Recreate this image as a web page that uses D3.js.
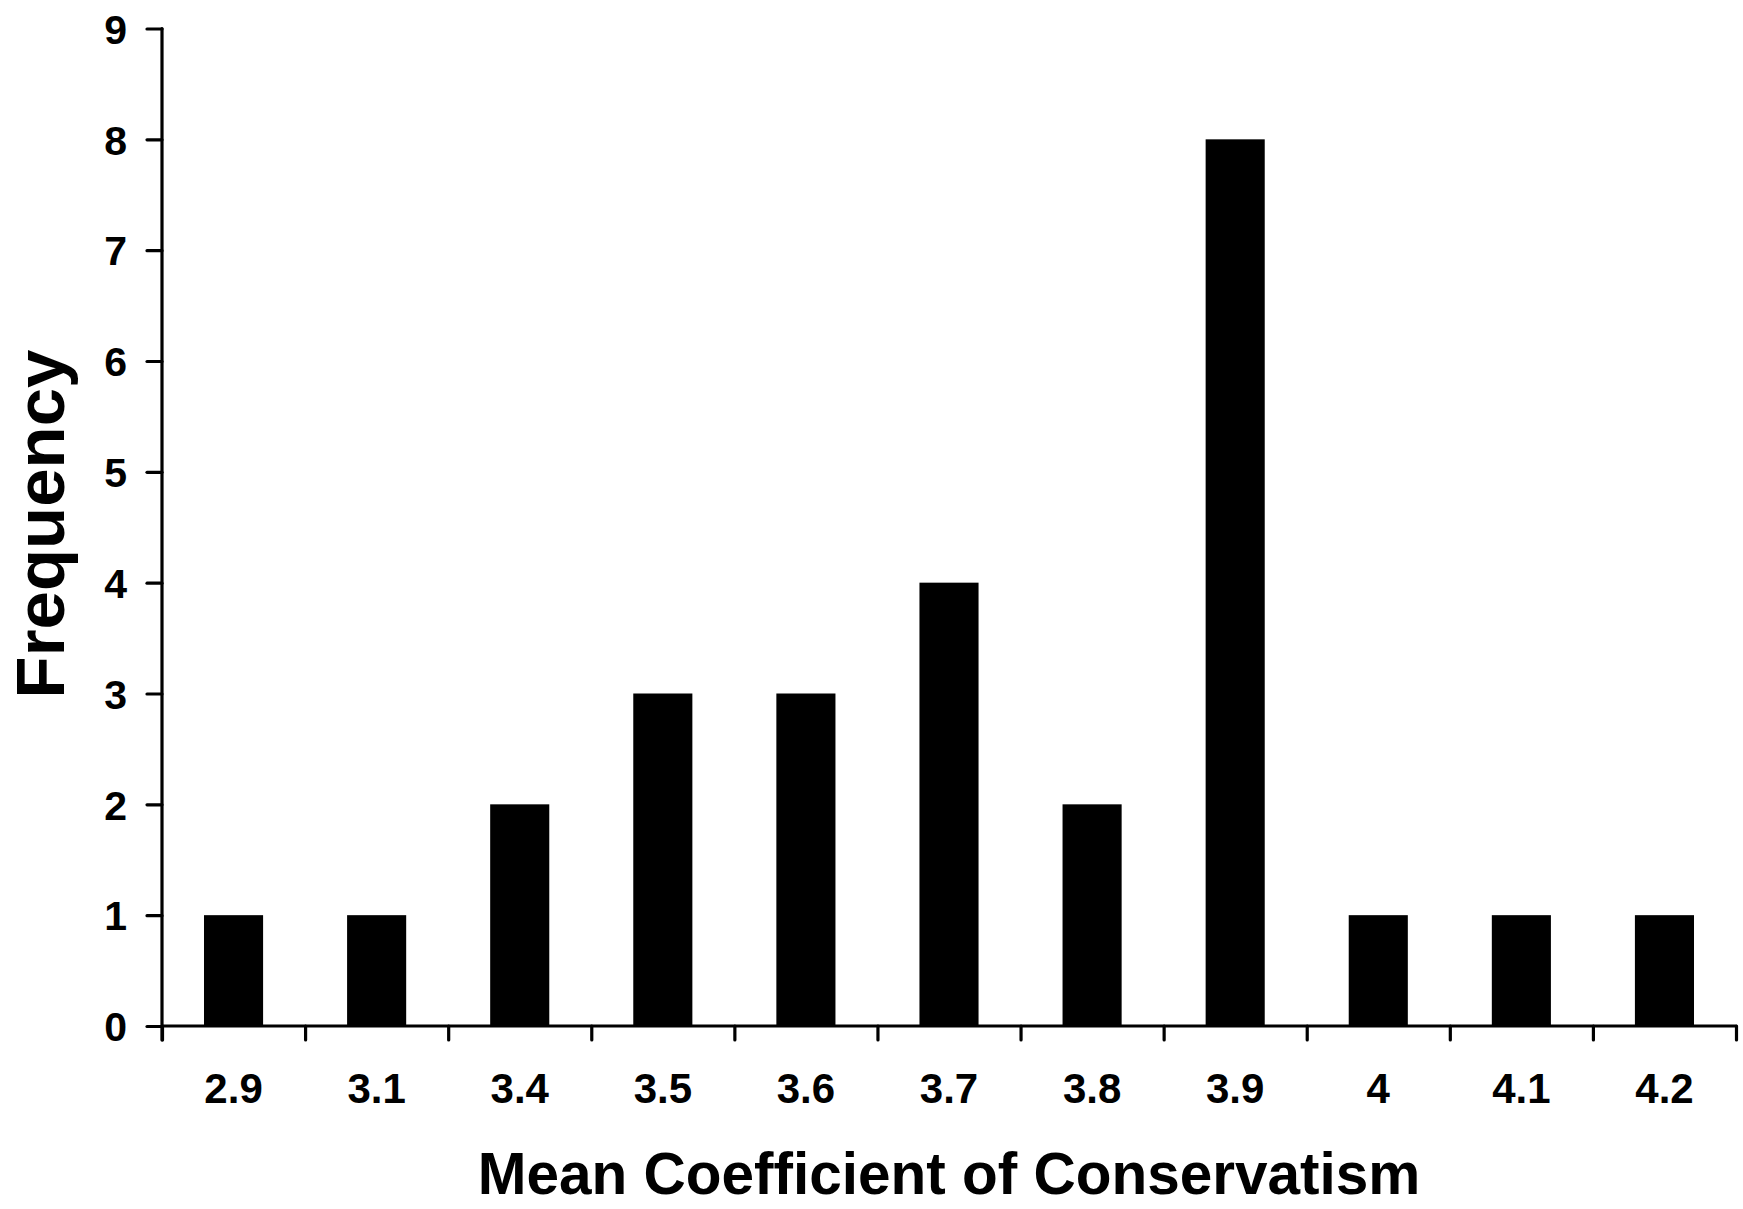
<!DOCTYPE html>
<html>
<head>
<meta charset="utf-8">
<script src="https://cdn.jsdelivr.net/npm/d3@7"></script>
<style>
  html, body { margin: 0; padding: 0; background: #fff; }
  svg { display: block; }
  text { font-family: "Liberation Sans", Arial, sans-serif; font-weight: bold; fill: #000; }
</style>
</head>
<body>
<svg id="chart" width="1743" height="1209"></svg>
<script>
const categories = ["2.9", "3.1", "3.4", "3.5", "3.6", "3.7", "3.8", "3.9", "4", "4.1", "4.2"];
const frequencies = [1, 1, 2, 3, 3, 4, 2, 8, 1, 1, 1];
const yTicks = [0, 1, 2, 3, 4, 5, 6, 7, 8, 9];
const xTitle = "Mean Coefficient of Conservatism";
const yTitle = "Frequency";

(function () {
const svg = d3.select("#chart");
const plotLeft = 162, plotRight = 1736, plotTop = 28.5, plotBottom = 1026;

const x = d3.scaleBand().domain(categories).range([plotLeft, plotRight]).padding(0);
const xEdges = d3.scaleLinear().domain([0, categories.length]).range([plotLeft, plotRight]);
const y = d3.scaleLinear().domain([0, 9]).range([plotBottom, plotTop]);

const barFrac = 0.413;

// bars
svg.append("g").selectAll("rect")
  .data(categories.map((c, i) => ({ c, v: frequencies[i] })))
  .join("rect")
  .attr("x", d => x(d.c) + x.bandwidth() * (1 - barFrac) / 2)
  .attr("width", x.bandwidth() * barFrac)
  .attr("y", d => y(d.v))
  .attr("height", d => y(0) - y(d.v))
  .attr("fill", "#000");

// y axis
const yAxis = svg.append("g")
  .attr("transform", `translate(${plotLeft},0)`)
  .call(d3.axisLeft(y).tickValues(yTicks).tickFormat(d3.format("d")).tickSize(15).tickPadding(20).tickSizeOuter(0));
yAxis.select(".domain").remove();
yAxis.selectAll(".tick line").attr("stroke", "#000").attr("stroke-width", 3.2).attr("stroke-linecap", "round");
yAxis.selectAll(".tick text").style("font-size", "41px").attr("dy", "0.36em");
yAxis.append("line")
  .attr("x1", 0).attr("x2", 0).attr("y1", plotTop).attr("y2", plotBottom + 14)
  .attr("stroke", "#000").attr("stroke-width", 3.2).attr("stroke-linecap", "round");

// x axis: tick marks at bin edges
const xAxisEdges = svg.append("g")
  .attr("transform", `translate(0,${plotBottom})`)
  .call(d3.axisBottom(xEdges).tickValues(d3.range(0, categories.length + 1)).tickFormat("").tickSize(14).tickSizeOuter(0));
xAxisEdges.select(".domain").remove();
xAxisEdges.selectAll(".tick line").attr("stroke", "#000").attr("stroke-width", 3.2).attr("stroke-linecap", "round");
xAxisEdges.append("line")
  .attr("x1", plotLeft).attr("x2", plotRight).attr("y1", 0).attr("y2", 0)
  .attr("stroke", "#000").attr("stroke-width", 3.2).attr("stroke-linecap", "round");

// x axis labels
const xAxisLabels = svg.append("g")
  .attr("transform", `translate(0,${plotBottom})`)
  .call(d3.axisBottom(x).tickSize(0).tickPadding(0));
xAxisLabels.select(".domain").remove();
xAxisLabels.selectAll(".tick text").style("font-size", "42px").attr("y", 77).attr("dy", "0");

// titles
svg.append("text")
  .attr("x", (plotLeft + plotRight) / 2)
  .attr("y", 1194)
  .attr("text-anchor", "middle")
  .style("font-size", "58.5px")
  .text(xTitle);

svg.append("text")
  .attr("transform", `translate(64,524) rotate(-90)`)
  .attr("text-anchor", "middle")
  .style("font-size", "69px")
  .text(yTitle);
})();
</script>
</body>
</html>
